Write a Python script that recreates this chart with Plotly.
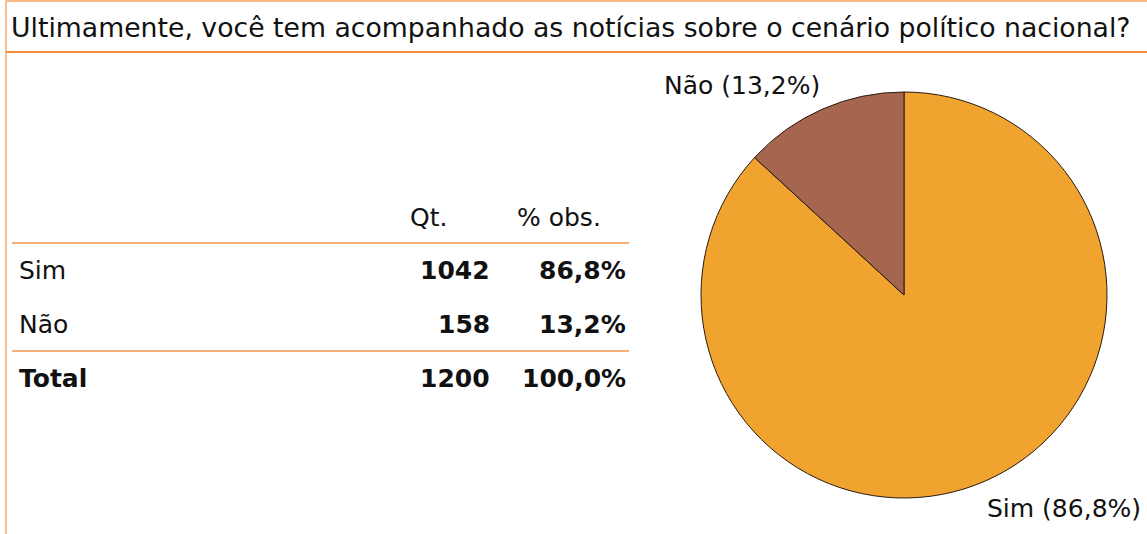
import plotly.graph_objects as go

title = "Ultimamente, você tem acompanhado as notícias sobre o cenário político nacional?"
categories = ["Sim", "Não"]
counts = [1042, 158]
pcts = [86.8, 13.2]
table_rows = ["Sim", "Não"]
table_qt = [1042, 158]
table_pct = [86.8, 13.2]
total_qt = 1200
total_pct = 100.0
colors = {"Não": "#A5654E", "Sim": "#F0A42F"}

W, H = 1147, 534
FONT = "DejaVu Sans, sans-serif"

def fmt(p):
    return f"{p:.1f}".replace(".", ",") + "%"

def px(x):
    return x / W

def py(y):
    return 1 - y / H

fig = go.Figure()
fig.add_trace(go.Pie(
    labels=categories, values=counts, sort=False, direction="clockwise",
    rotation=0, textinfo="none", hoverinfo="label+percent",
    marker=dict(colors=[colors[c] for c in categories], line=dict(color="#2a1a10", width=1)),
    domain=dict(x=[px(701), px(1107)], y=[py(498), py(92)]),
    showlegend=False,
))

ann = []
shapes = []
# title
ann.append(dict(x=px(9), y=py(27), xref="paper", yref="paper", text=title, showarrow=False,
                xanchor="left", yanchor="middle", font=dict(family=FONT, size=26.7, color="#111")))
# frame lines
shapes.append(dict(type="line", xref="paper", yref="paper", x0=px(6), x1=1, y0=py(1), y1=py(1),
                   line=dict(color="#F8B98A", width=2)))
shapes.append(dict(type="line", xref="paper", yref="paper", x0=px(6), x1=px(6), y0=py(0), y1=0,
                   line=dict(color="#F8BE94", width=2)))
shapes.append(dict(type="line", xref="paper", yref="paper", x0=px(6), x1=1, y0=py(52), y1=py(52),
                   line=dict(color="#F58A3A", width=2)))
# table lines
for yy in (243, 351):
    shapes.append(dict(type="line", xref="paper", yref="paper", x0=px(12), x1=px(629), y0=py(yy), y1=py(yy),
                       line=dict(color="#F8B07A", width=2)))
# headers
tf = dict(family=FONT, size=25, color="#111")
ann.append(dict(x=px(449), y=py(217), text="Qt.", xanchor="right", font=tf))
ann.append(dict(x=px(603), y=py(217), text="% obs.", xanchor="right", font=tf))
row_y = [270, 324]
for lab, q, p, yy in zip(table_rows, table_qt, table_pct, row_y):
    ann.append(dict(x=px(17), y=py(yy), text=lab, xanchor="left", font=tf))
    ann.append(dict(x=px(492), y=py(yy), text=f"<b>{q}</b>", xanchor="right", font=tf))
    ann.append(dict(x=px(628), y=py(yy), text=f"<b>{fmt(p)}</b>", xanchor="right", font=tf))
ann.append(dict(x=px(17), y=py(378), text="<b>Total</b>", xanchor="left", font=tf))
ann.append(dict(x=px(492), y=py(378), text=f"<b>{total_qt}</b>", xanchor="right", font=tf))
ann.append(dict(x=px(628), y=py(378), text=f"<b>{fmt(total_pct)}</b>", xanchor="right", font=tf))
# pie labels
lab_pos = {"Não": (662, 85, "left"), "Sim": (1143, 508, "right")}
for c, p in zip(categories, pcts):
    x, y, a = lab_pos[c]
    ann.append(dict(x=px(x), y=py(y), text=f"{c} ({fmt(p)})", xanchor=a, font=tf))

for a in ann:
    a.setdefault("xref", "paper")
    a.setdefault("yref", "paper")
    a.setdefault("showarrow", False)
    a.setdefault("yanchor", "middle")

fig.update_layout(width=W, height=H, margin=dict(l=0, r=0, t=0, b=0),
                  paper_bgcolor="white", plot_bgcolor="white",
                  annotations=ann, shapes=shapes, font=dict(family=FONT))
fig.write_html("out.html", config={"displayModeBar": False},
               post_script="document.body.style.margin='0';document.body.style.overflow='hidden';")
